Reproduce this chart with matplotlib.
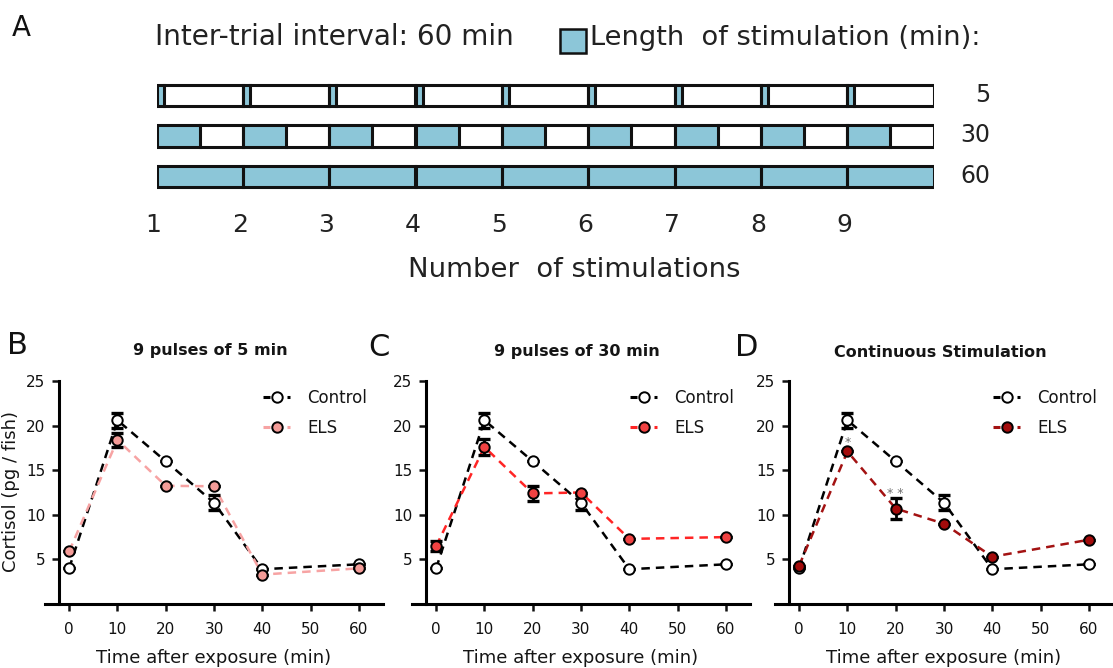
import matplotlib
matplotlib.use("Agg")
import matplotlib.pyplot as plt
from matplotlib.patches import Rectangle
import matplotlib.transforms as mtrans

plt.rcParams['font.family'] = ['DejaVu Sans']

# ---------------- data ----------------
stim_lengths = [5, 30, 60]          # minutes of stimulation per 60-min trial
n_stim = 9
interval = 60
stim_numbers = [1, 2, 3, 4, 5, 6, 7, 8, 9]

time = [0, 10, 20, 30, 40, 60]
ctrl_mean = [4.0, 20.6, 16.0, 11.35, 3.9, 4.45]
ctrl_err = [0.0, 0.85, 0.0, 0.85, 0.0, 0.0]

els_B = [5.9, 18.4, 13.25, 13.2, 3.3, 4.0]
els_B_err = [0.0, 0.75, 0.0, 0.0, 0.0, 0.0]
els_C = [6.5, 17.6, 12.4, 12.5, 7.3, 7.5]
els_C_err = [0.55, 0.85, 0.8, 0.0, 0.0, 0.0]
els_D = [4.3, 17.1, 10.7, 9.0, 5.3, 7.2]
els_D_err = [0.0, 0.0, 1.2, 0.0, 0.0, 0.0]

sig_D_x = [10, 20]
sig_D_y = [18.1, 12.4]
sig_D_txt = ["*", "* *"]

titles = ["9 pulses of 5 min", "9 pulses of 30 min", "Continuous Stimulation"]
letters = ["B", "C", "D"]
els_colors = ["#F49C98", "#F04242", "#A30B0B"]
els_line_colors = ["#F7A3A3", "#FF2525", "#A31212"]

W, H = 1113, 668
fig = plt.figure(figsize=(W / 100, H / 100), dpi=100)
renderer = fig.canvas.get_renderer()
TXT = '#151515'


def fx(px):
    return px / W


def fy(py):
    return 1 - py / H


def fit_width(t, target_px):
    w = t.get_window_extent(renderer).width
    t.set_fontsize(t.get_fontsize() * target_px / w)


# overlay axes in pixel coordinates (for legend keys)
axO = fig.add_axes([0, 0, 1, 1], zorder=10)
axO.set_xlim(0, W)
axO.set_ylim(H, 0)
axO.axis('off')
axO.patch.set_alpha(0)

# ---------------- Panel A ----------------
blue = "#8CC6D8"
axA = fig.add_axes([fx(156.5), fy(197), fx(933.5) - fx(156.5), fy(75) - fy(197)])
axA.set_xlim(0, n_stim * interval)
axA.set_ylim(3, 0)
axA.axis('off')
bh = 0.52
for i, L in enumerate(stim_lengths):
    yc = i + 0.5
    y0 = yc - bh / 2
    for k in range(n_stim):
        x0 = k * interval
        axA.add_patch(Rectangle((x0, y0), L, bh, facecolor=blue, edgecolor='none', zorder=1))
        axA.add_patch(Rectangle((x0, y0), interval, bh, facecolor='none',
                                edgecolor='#111111', linewidth=2.2, zorder=3,
                                joinstyle='miter'))
        if L < interval:
            axA.plot([x0 + L, x0 + L], [y0, y0 + bh], color='#111111', lw=2.2, zorder=3)

for L, yb in zip(stim_lengths, [102, 142, 183]):
    fig.text(fx(990), fy(yb), str(L), fontsize=17, ha='right', va='baseline', color='#222222')

trans = mtrans.blended_transform_factory(axA.transData, fig.transFigure)
for k, n in enumerate(stim_numbers):
    axA.text(k * interval - 2, fy(232), str(n), transform=trans, fontsize=18,
             ha='center', va='baseline', color='#222222')

t = fig.text(fx(408), fy(277), "Number  of stimulations", fontsize=18, ha='left',
             va='baseline', color='#222222')
fit_width(t, 332)
t = fig.text(fx(155), fy(45), "Inter-trial interval: 60 min", fontsize=18, ha='left',
             va='baseline', color='#222222')
fit_width(t, 360)
fig.add_artist(Rectangle((fx(560), fy(53)), fx(26), fy(29) - fy(53), facecolor=blue,
                         edgecolor='#111111', linewidth=1.8, transform=fig.transFigure))
t = fig.text(fx(590), fy(45), "Length  of stimulation (min):", fontsize=18, ha='left',
             va='baseline', color='#222222')
fit_width(t, 390)
fig.text(fx(12), fy(36), "A", fontsize=20, ha='left', va='baseline', color='#111111')

# ---------------- Panels B, C, D ----------------
lefts = [45, 412, 775]
els_list = [els_B, els_C, els_D]
els_err_list = [els_B_err, els_C_err, els_D_err]
letter_pos = [(7, 354), (368, 356), (735, 356)]
title_base = [355, 356, 357]
dash = (0, (3.4, 2.4))

for j in range(3):
    L0 = lefts[j]
    ax = fig.add_axes([fx(L0), fy(604), fx(338), fy(381) - fy(604)])
    ax.set_xlim(-5, 65)
    ax.set_ylim(0, 25)
    ax.spines['top'].set_visible(False)
    ax.spines['right'].set_visible(False)
    ax.spines['left'].set_position(('data', -2))
    ax.spines['left'].set_bounds(0, 25)
    for s in ['left', 'bottom']:
        ax.spines[s].set_linewidth(2.2)
    ax.set_xticks([0, 10, 20, 30, 40, 50, 60])
    ax.set_yticks([5, 10, 15, 20, 25])
    ax.tick_params(axis='both', direction='out', length=5, width=1.8, labelsize=11,
                   colors='#111111')
    ax.tick_params(axis='x', pad=8)
    ax.tick_params(axis='y', pad=5)
    ax.patch.set_alpha(0)

    ec = els_colors[j]
    lc = els_line_colors[j]
    ax.plot(time, ctrl_mean, ls=dash, color='black', lw=1.8, zorder=3)
    ax.plot(time, els_list[j], ls=dash, color=lc, lw=1.8, zorder=3)
    ax.errorbar(time, ctrl_mean, yerr=ctrl_err, fmt='none', ecolor='black',
                elinewidth=2, capsize=4, capthick=2.4, zorder=4)
    ax.errorbar(time, els_list[j], yerr=els_err_list[j], fmt='none', ecolor='black',
                elinewidth=2, capsize=4, capthick=2.4, zorder=4)
    ax.plot(time, ctrl_mean, 'o', ms=7.5, mfc='white', mec='black', mew=1.4, zorder=5)
    ax.plot(time, els_list[j], 'o', ms=7.5, mfc=ec, mec='black', mew=1.4, zorder=6)

    # legend (keys drawn in pixel overlay)
    for row, (mfc, col, lab) in enumerate([('white', 'black', 'Control'), (ec, lc, 'ELS')]):
        yk = 397 + 30 * row
        xm = L0 + 232
        axO.plot([xm - 14, xm - 7], [yk, yk], color=col, lw=2.2, solid_capstyle='butt')
        axO.plot([xm + 10, xm + 13], [yk, yk], color=col, lw=2.2, solid_capstyle='butt')
        axO.plot([xm], [yk], 'o', ms=7.5, mfc=mfc, mec='black', mew=1.4)
        fig.text(fx(L0 + 262), fy(yk + 6), lab, fontsize=12, ha='left', va='baseline',
                 color=TXT)

    cx = L0 + 169
    fig.text(fx(cx), fy(663), "Time after exposure (min)", fontsize=13, ha='center',
             va='baseline', color=TXT)
    if j == 0:
        fig.text(fx(16), fy(492), "Cortisol (pg / fish)", fontsize=13, ha='center',
                 va='baseline', rotation=90, rotation_mode='anchor', color=TXT)
    fig.text(fx(cx - 4), fy(title_base[j]), titles[j], fontsize=11.5, fontweight='bold',
             ha='center', va='baseline', color=TXT)
    fig.text(fx(letter_pos[j][0]), fy(letter_pos[j][1]), letters[j], fontsize=22,
             ha='left', va='baseline', color='#111111')

    if j == 2:
        for sx, sy, st in zip(sig_D_x, sig_D_y, sig_D_txt):
            ax.text(sx, sy, st, fontsize=9, color='#707070', ha='center', va='center',
                    zorder=7)

fig.savefig("out.png", dpi=100)
